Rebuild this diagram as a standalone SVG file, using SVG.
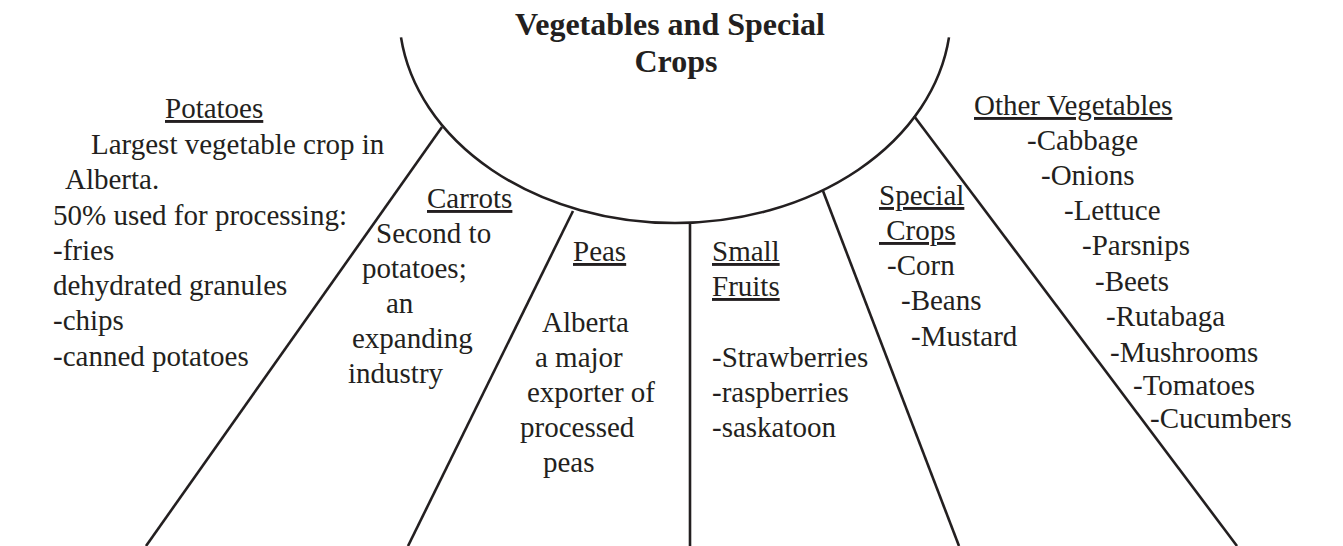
<svg xmlns="http://www.w3.org/2000/svg" width="1343" height="546" viewBox="0 0 1343 546">
<style>
text{font-family:"Liberation Serif","Times New Roman",serif;font-size:29px;fill:#231f20}
.t{font-weight:bold;font-size:32px;text-anchor:middle}
.u{text-decoration:underline}
.ln{stroke:#231f20;stroke-width:2.6;fill:none;stroke-linecap:butt}
</style>
<rect width="1343" height="546" fill="#fff"/>
<g id="connectors">
<path class="ln" d="M401 37.4 A276 211 0 0 0 949 37.4"/>
<line class="ln" x1="442" y1="127" x2="146" y2="546"/>
<line class="ln" x1="573" y1="211" x2="408" y2="546"/>
<line class="ln" x1="690" y1="223" x2="690" y2="546"/>
<line class="ln" x1="823" y1="191" x2="959" y2="546"/>
<line class="ln" x1="914" y1="116" x2="1237" y2="546"/>
</g>
<g id="title">
<text class="t" x="670" y="35">Vegetables and Special</text>
<text class="t" x="676" y="72">Crops</text>
</g>
<g id="potatoes">
<text class="u" x="165" y="118">Potatoes</text>
<text x="91" y="154">Largest vegetable crop in</text>
<text x="65" y="189">Alberta.</text>
<text x="53" y="225">50% used for processing:</text>
<text x="53" y="260">-fries</text>
<text x="53" y="295">dehydrated granules</text>
<text x="53" y="330">-chips</text>
<text x="53" y="366">-canned potatoes</text>
</g>
<g id="carrots">
<text class="u" x="427" y="208">Carrots</text>
<text x="376" y="243">Second to</text>
<text x="362" y="278">potatoes;</text>
<text x="386" y="313">an</text>
<text x="352" y="348">expanding</text>
<text x="348" y="383">industry</text>
</g>
<g id="peas">
<text class="u" x="573" y="261">Peas</text>
<text x="542" y="332">Alberta</text>
<text x="535" y="367">a major</text>
<text x="527" y="402">exporter of</text>
<text x="520" y="437">processed</text>
<text x="543" y="472">peas</text>
</g>
<g id="small-fruits">
<text class="u" x="712" y="261">Small</text>
<text class="u" x="712" y="296">Fruits</text>
<text x="712" y="367">-Strawberries</text>
<text x="712" y="402">-raspberries</text>
<text x="712" y="437">-saskatoon</text>
</g>
<g id="special-crops">
<text class="u" x="879" y="205">Special</text>
<text class="u" x="879" y="240">&#160;Crops</text>
<text x="887" y="275">-Corn</text>
<text x="901" y="310">-Beans</text>
<text x="911" y="346">-Mustard</text>
</g>
<g id="other-vegetables">
<text class="u" x="974" y="115">Other Vegetables</text>
<text x="1027" y="150">-Cabbage</text>
<text x="1041" y="185">-Onions</text>
<text x="1064" y="220">-Lettuce</text>
<text x="1082" y="255">-Parsnips</text>
<text x="1095" y="291">-Beets</text>
<text x="1106" y="326">-Rutabaga</text>
<text x="1110" y="362">-Mushrooms</text>
<text x="1133" y="395">-Tomatoes</text>
<text x="1150" y="428">-Cucumbers</text>
</g>
</svg>
